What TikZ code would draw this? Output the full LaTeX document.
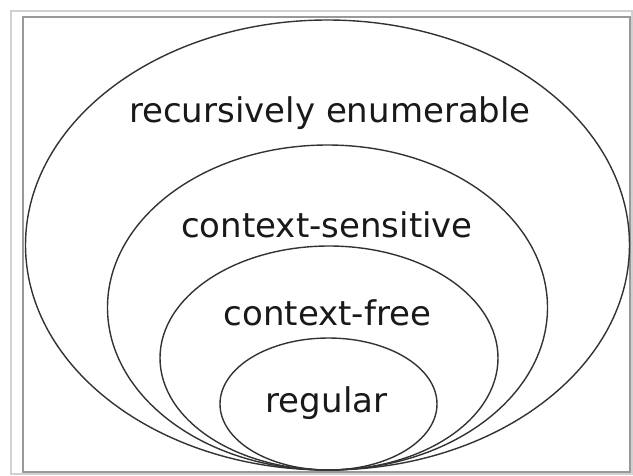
\documentclass[tikz,border=0pt]{standalone}
\usepackage{fontspec}
\setmainfont{DejaVu Sans}
\begin{document}
\begin{tikzpicture}[x=1pt,y=-1pt,
  setline/.style={draw=black!80,line width=1.4pt},
  setlabel/.style={anchor=base,inner sep=0pt,font=\fontsize{34}{40}\selectfont,text=black!90}]
\useasboundingbox (0,0) rectangle (633,475);
\fill[white] (0,0) rectangle (633,475);
\draw[black!18,line width=2pt] (11,11) rectangle (632,474);
\draw[black!40,line width=1.5pt] (23,17) rectangle (630,472);
\draw[setline] (327.5,245) ellipse [x radius=302, y radius=225];
\draw[setline] (327.5,307.5) ellipse [x radius=220, y radius=162.5];
\draw[setline] (329,358) ellipse [x radius=169, y radius=112];
\draw[setline] (328.5,404) ellipse [x radius=108.5, y radius=66];
\node[setlabel] (re) at (330,122) {recursively enumerable};
\node[setlabel] (cs) at (327,237) {context-sensitive};
\node[setlabel] (cf) at (327.5,325) {context-free};
\node[setlabel] (rg) at (326.5,412) {regular};
\end{tikzpicture}
\end{document}
